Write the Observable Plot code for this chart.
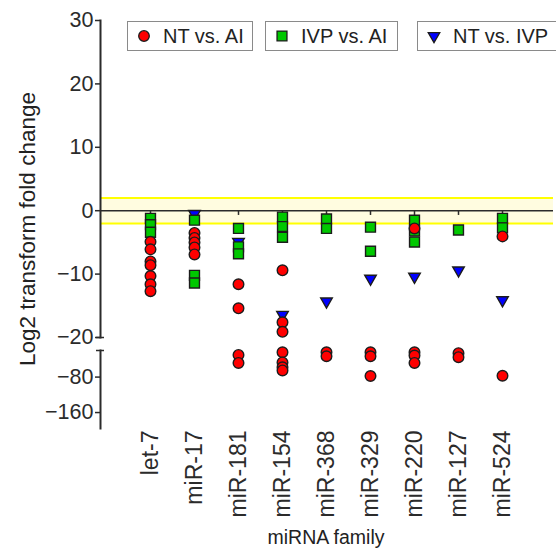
<!DOCTYPE html>
<html><head><meta charset="utf-8">
<script src="https://cdn.jsdelivr.net/npm/d3@7"></script>
<script src="https://cdn.jsdelivr.net/npm/@observablehq/plot@0.6"></script>
<style>
body{margin:0;background:#fff;}
#chart{position:relative;width:556px;height:552px;overflow:hidden;font-family:"Liberation Sans",Arial,sans-serif;color:#222;background:#fff;}
#chart > svg{position:absolute;left:0;}
.lg{position:absolute;top:21px;height:28px;border:1.5px solid #8a8a8a;background:#fff;display:flex;align-items:center;font-size:20px;white-space:nowrap;box-sizing:content-box;}
.lg svg{margin-left:6px;margin-right:9px;}
.ytitle{position:absolute;left:28px;top:229px;transform:translate(-50%,-50%) rotate(-90deg);font-size:22.5px;white-space:nowrap;}
.xtitle{position:absolute;left:326px;top:537px;transform:translate(-50%,-50%);font-size:19.5px;white-space:nowrap;}
</style></head><body><div id="chart"></div>
<script>
// ---- data ----
const families = ["let-7","miR-17","miR-181","miR-154","miR-368","miR-329","miR-220","miR-127","miR-524"];
const seriesNames = ["NT vs. AI", "IVP vs. AI", "NT vs. IVP"];
const ntVsAi = [
  [-4.9, -6.1, -8.0, -8.6, -10.3, -11.6, -12.7],
  [-3.5, -4.3, -5.0, -5.8, -6.9],
  [-11.6, -15.4, -30, -48],
  [-9.4, -17.6, -19.1, -24, -47, -58, -65],
  [-24, -33],
  [-24, -33, -77.5],
  [-2.8, -24, -31.5, -48],
  [-26, -35],
  [-4.05, -77]
];
const ivpVsAi = [
  [-1.2, -2.2, -3.4],
  [-1.5, -10.2, -11.4],
  [-2.8, -5.7, -6.8],
  [-1.0, -2.5, -4.2],
  [-1.3, -2.8],
  [-2.6, -6.4],
  [-1.5, -3.2, -4.95],
  [-3.05],
  [-1.2, -2.7]
];
const ntVsIvp = [
  [], [-0.5], [-4.9], [-16.4], [-14.3], [-10.7], [-10.4], [-9.4], [-14.1]
];
const topTicks = [30, 20, 10, 0, -10, -20];
const bottomTicks = [-80, -160];
const cutoff = [-2, 2];

// ---- build ----
function flat(series) {
  const out = [];
  series.forEach((vals, i) => vals.forEach(v => out.push({family: families[i], value: v})));
  return out;
}
const red = flat(ntVsAi), green = flat(ivpVsAi), blue = flat(ntVsIvp);
const isTop = d => d.value >= -20;
const isBot = d => d.value < -20;

const xScale = {type: "point", domain: families, range: [125, 527]};
const ink = "#2b2b2b";
const markStroke = "#1c1c1c";
const dotMarks = (filter) => [
  Plot.dot(blue.filter(filter), {x: "family", y: "value", symbol: "triangle", rotate: 180, r: 4.3, fill: "#0000ff", stroke: markStroke, strokeWidth: 1.4}),
  Plot.dot(green.filter(filter), {x: "family", y: "value", symbol: "square", r: 5.6, fill: "#00c800", stroke: markStroke, strokeWidth: 1.4}),
  Plot.dot(red.filter(filter), {x: "family", y: "value", symbol: "circle", r: 5.3, fill: "#ff0000", stroke: markStroke, strokeWidth: 1.4})
];

const topPlot = Plot.plot({
  width: 556, height: 345,
  marginTop: 20, marginBottom: 8, marginLeft: 100, marginRight: 3,
  style: {background: "transparent", overflow: "visible", fontFamily: "Liberation Sans, Arial, sans-serif", color: ink},
  x: {...xScale, axis: null},
  y: {domain: [-20, 30]},
  marks: [
    Plot.rect([{lo: cutoff[0], hi: cutoff[1]}], {y1: "lo", y2: "hi", fill: "#fffce0"}),
    Plot.ruleY(cutoff, {stroke: "#ffff00", strokeWidth: 2}),
    Plot.ruleY([0], {stroke: ink, strokeWidth: 1.5}),
    Plot.ruleX(families, {y1: 0, y2: -0.75, stroke: ink, strokeWidth: 1.5}),
    Plot.frame({anchor: "left", stroke: ink, strokeWidth: 2}),
    Plot.axisY({ticks: topTicks, tickSize: 5, tickPadding: 2, fontSize: 21.5, label: null, strokeWidth: 1.5}),
    Plot.axisY({ticks: [-20], tickSize: 8, dx: 4, tickFormat: () => "", label: null, strokeWidth: 1.5}),
    ...dotMarks(isTop)
  ]
});
topPlot.style.top = "0px";

const botPlot = Plot.plot({
  width: 556, height: 207,
  marginTop: 5, marginBottom: 124, marginLeft: 100, marginRight: 3,
  style: {background: "transparent", overflow: "visible", fontFamily: "Liberation Sans, Arial, sans-serif", color: ink},
  x: xScale,
  y: {domain: [-196, -20]},
  marks: [
    Plot.frame({anchor: "left", stroke: ink, strokeWidth: 2}),
    Plot.axisY({ticks: bottomTicks, tickSize: 5, tickPadding: 2, fontSize: 21.5, label: null, strokeWidth: 1.5}),
    Plot.axisY({ticks: [-20], tickSize: 8, dx: 4, tickFormat: () => "", label: null, strokeWidth: 1.5}),
    Plot.axisX({tickRotate: -90, tickSize: 0, tickPadding: 2, fontSize: 23, label: null}),
    ...dotMarks(isBot)
  ]
});
botPlot.style.top = "345px";

const chart = document.getElementById("chart");
chart.appendChild(topPlot);
chart.appendChild(botPlot);

// legend
const legendBoxes = [
  {left: 127, width: 124, fill: "#ff0000", sym: d3.symbolCircle, size: 88, rot: 0},
  {left: 265, width: 131, fill: "#00c800", sym: d3.symbolSquare, size: 98, rot: 0},
  {left: 417, width: 150, fill: "#0000ff", sym: d3.symbolTriangle, size: 58, rot: 180}
];
legendBoxes.forEach((b, i) => {
  const div = document.createElement("div");
  div.className = "lg";
  div.style.left = b.left + "px";
  div.style.width = b.width + "px";
  const ns = "http://www.w3.org/2000/svg";
  const s = document.createElementNS(ns, "svg");
  s.setAttribute("width", 20); s.setAttribute("height", 20);
  const p = document.createElementNS(ns, "path");
  p.setAttribute("d", d3.symbol(b.sym, b.size)());
  p.setAttribute("transform", `translate(10,10) rotate(${b.rot})`);
  p.setAttribute("fill", b.fill); p.setAttribute("stroke", markStroke); p.setAttribute("stroke-width", 1.3);
  s.appendChild(p);
  div.appendChild(s);
  const t = document.createElement("span");
  t.textContent = seriesNames[i];
  div.appendChild(t);
  chart.appendChild(div);
});

const yt = document.createElement("div");
yt.className = "ytitle"; yt.textContent = "Log2 transform fold change";
chart.appendChild(yt);
const xt = document.createElement("div");
xt.className = "xtitle"; xt.textContent = "miRNA family";
chart.appendChild(xt);
</script>
</body></html>
